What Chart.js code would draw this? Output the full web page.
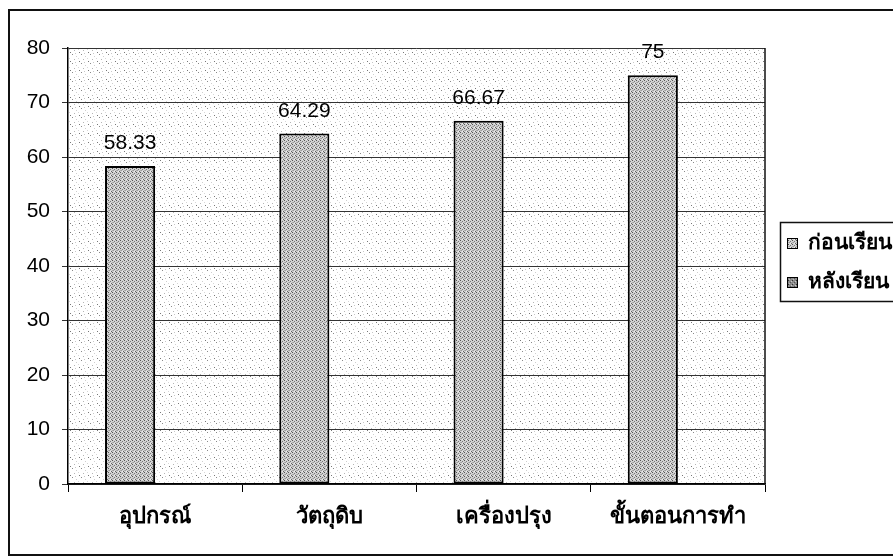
<!DOCTYPE html>
<html>
<head>
<meta charset="utf-8">
<script src="https://cdn.jsdelivr.net/npm/chart.js@4.4.1/dist/chart.umd.min.js"></script>
<style>
  html, body { margin: 0; padding: 0; background: #fff; }
  #wrap { width: 893px; height: 558px; position: relative; }
</style>
</head>
<body>
<div id="wrap"><canvas id="myChart" width="893" height="558"></canvas></div>
<script>
// data
const categories = ['อุปกรณ์', 'วัตถุดิบ', 'เครื่องปรุง', 'ขั้นตอนการทำ'];
const seriesNames = ['ก่อนเรียน', 'หลังเรียน'];
const beforeValues = [58.33, 64.29, 66.67, 75];
const afterValues = [null, null, null, null];
const yTicks = [0, 10, 20, 30, 40, 50, 60, 70, 80];

const numFont = '"Liberation Sans", Arial, sans-serif';
const thaiFont = '"Liberation Sans", "Noto Sans", "DejaVu Sans", sans-serif';

// dotted fills like the scanned print
function makePattern(base, dots, size) {
  const c = document.createElement('canvas');
  c.width = size; c.height = size;
  const g = c.getContext('2d');
  g.fillStyle = base;
  g.fillRect(0, 0, size, size);
  dots.forEach(d => {
    g.fillStyle = d[2];
    g.fillRect(d[0], d[1], 1, 1);
  });
  return g.createPattern(c, 'repeat');
}

const ctx = document.getElementById('myChart').getContext('2d');

const plotBg = makePattern('#ffffff', [
  [0, 0, '#8a8a8a'], [4, 2, '#cfcfcf'], [2, 5, '#b5b5b5'],
  [6, 4, '#d8d8d8'], [7, 7, '#777'], [3, 8, '#c8c8c8']
], 9);
const barFill = makePattern('#d2d2d2', [
  [0, 0, '#555'], [2, 1, '#777'], [1, 2, '#999'], [3, 3, '#666'],
  [0, 2, '#b0b0b0'], [2, 3, '#eeeeee']
], 4);
const barFill2 = makePattern('#8a8a8a', [
  [0, 0, '#333'], [2, 2, '#555'], [1, 3, '#bbb'], [3, 1, '#ccc']
], 4);

const framePlugin = {
  id: 'frame',
  beforeDraw(chart) {
    const c = chart.ctx, a = chart.chartArea;
    c.save();
    c.fillStyle = '#fff';
    c.fillRect(0, 0, chart.width, chart.height);
    c.fillStyle = plotBg;
    c.fillRect(a.left, a.top, a.right - a.left, a.bottom - a.top);
    c.restore();
  },
  afterDraw(chart) {
    const c = chart.ctx, a = chart.chartArea;
    c.save();
    // outer border
    c.strokeStyle = '#111';
    c.lineWidth = 2;
    c.strokeRect(9, 10, 900, 545);
    // plot right edge
    c.lineWidth = 1.5;
    c.beginPath();
    c.moveTo(a.right, a.top);
    c.lineTo(a.right, a.bottom);
    c.stroke();
    // value labels
    c.fillStyle = '#000';
    c.font = '21px ' + numFont;
    c.textAlign = 'center';
    c.textBaseline = 'alphabetic';
    const meta = chart.getDatasetMeta(0);
    meta.data.forEach((bar, i) => {
      const v = chart.data.datasets[0].data[i];
      if (v == null) return;
      c.fillText(String(v), bar.x, bar.y - 17);
    });
    // legend
    const lx = 780, ly = 222, lw = 130, lh = 79;
    c.fillStyle = '#fff';
    c.fillRect(lx, ly, lw, lh);
    c.strokeStyle = '#111';
    c.lineWidth = 1.5;
    c.strokeRect(lx + 0.5, ly + 0.5, lw, lh);
    c.font = 'bold 21px ' + thaiFont;
    c.textAlign = 'left';
    c.textBaseline = 'middle';
    chart.data.datasets.forEach((ds, i) => {
      const cy = 243 + i * 39;
      c.fillStyle = ds.backgroundColor;
      c.fillRect(787, cy - 5, 10, 10);
      c.strokeStyle = '#000';
      c.lineWidth = 1;
      c.strokeRect(787.5, cy - 4.5, 10, 10);
      c.fillStyle = '#000';
      c.fillText(ds.label, 808, cy);
    });
    c.restore();
  }
};

const myChart = new Chart(ctx, {
  type: 'bar',
  data: {
    labels: categories,
    datasets: [{
      label: seriesNames[0],
      data: beforeValues,
      backgroundColor: barFill,
      borderColor: '#000',
      borderWidth: 2,
      borderSkipped: false,
      barPercentage: 1,
      categoryPercentage: 0.575
    }, {
      label: seriesNames[1],
      data: afterValues,
      backgroundColor: barFill2,
      borderColor: '#000',
      borderWidth: 2,
      barPercentage: 1,
      categoryPercentage: 0.575
    }]
  },
  options: {
    responsive: false,
    animation: false,
    layout: { padding: { left: 8, top: 48, right: 128, bottom: 0 } },
    plugins: {
      legend: { display: false },
      tooltip: { enabled: false }
    },
    scales: {
      x: {
        offset: true,
        grid: {
          offset: true,
          drawOnChartArea: false,
          drawTicks: true,
          tickLength: 8,
          color: '#000'
        },
        border: { color: '#000', width: 1.5 },
        ticks: {
          color: '#000',
          padding: 12,
          font: { family: thaiFont, size: 22, weight: 'bold' }
        },
        afterFit: s => { s.height = 74; }
      },
      y: {
        min: 0,
        max: 80,
        afterBuildTicks: s => { s.ticks = yTicks.map(v => ({ value: v })); },
        grid: {
          color: '#333',
          lineWidth: 1,
          tickLength: 6
        },
        border: { color: '#000', width: 1.5 },
        ticks: {
          color: '#000',
          padding: 12,
          font: { family: numFont, size: 21 }
        },
        afterFit: s => { s.width = 60; }
      }
    }
  },
  plugins: [framePlugin]
});
</script>
</body>
</html>
